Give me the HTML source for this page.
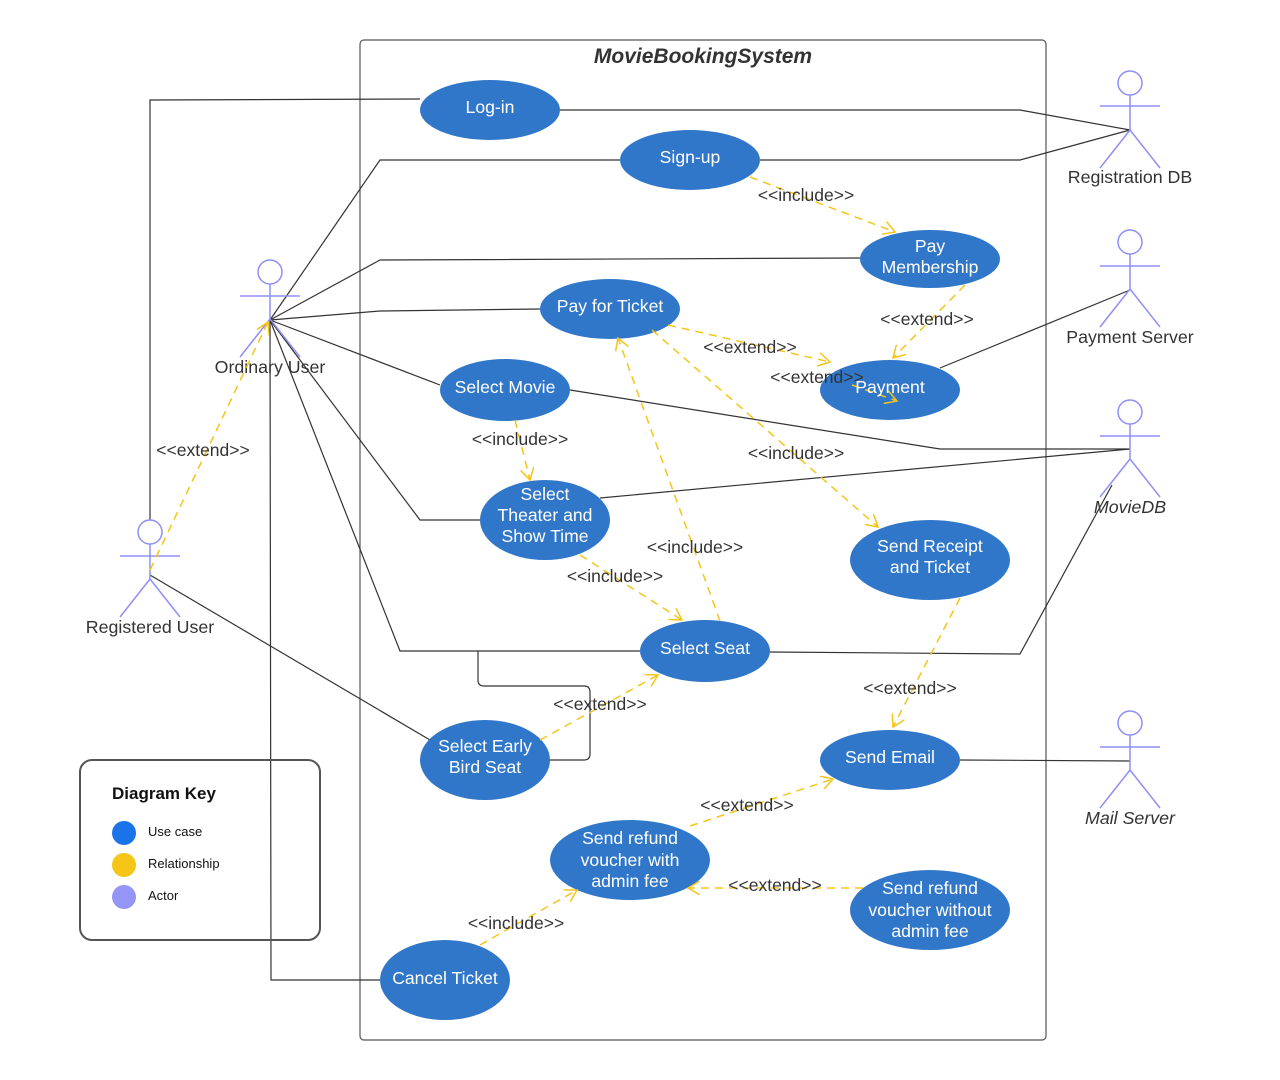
<!DOCTYPE html>
<html><head><meta charset="utf-8"><style>
body{margin:0;background:#fff}
svg{display:block;font-family:"Liberation Sans",sans-serif}
.u{fill:#3177c9}
.ut{fill:#fff;font-size:17.6px;text-anchor:middle}
.l{stroke:#333;stroke-width:1.2;fill:none}
.d{stroke:#f5c518;stroke-width:1.5;fill:none;stroke-dasharray:8,6;marker-end:url(#a)}
.lb{font-size:17.5px;fill:#333;text-anchor:middle}
.ac{stroke:#8f8ff5;stroke-width:1.5;fill:none}
.at{font-size:17.8px;fill:#333;text-anchor:middle}
</style></head><body>
<svg width="1280" height="1080" viewBox="0 0 1280 1080">
<defs><marker id="a" markerWidth="14" markerHeight="14" refX="12" refY="7" orient="auto" markerUnits="userSpaceOnUse"><path d="M0,0 L12,7 L0,14" fill="none" stroke="#f5c518" stroke-width="1.5"/></marker></defs>
<rect x="360" y="40" width="686" height="1000" rx="4" fill="none" stroke="#555" stroke-width="1.2"/>
<text x="703" y="63" font-size="21" font-weight="bold" font-style="italic" fill="#333" text-anchor="middle">MovieBookingSystem</text>
<!-- black lines -->
<path class="l" d="M420,99 L150,100 L150,520"/>
<path class="l" d="M560,110 L1020,110 L1130,130"/>
<path class="l" d="M270,320 L380,160 L620,160"/>
<path class="l" d="M760,160 L1020,160 L1130,130"/>
<path class="l" d="M270,320 L380,260 L860,258"/>
<path class="l" d="M270,320 L380,311 L540,309"/>
<path class="l" d="M270,320 L440,385"/>
<path class="l" d="M270,320 L420,520 L480,520"/>
<path class="l" d="M270,320 L400,651 L640,651"/>
<path class="l" d="M270,320 L271,980 L380,980"/>
<path class="l" d="M150,575 L430,740"/>
<path class="l" d="M570,390 L940,449 L1130,449"/>
<path class="l" d="M600,498 L1130,449"/>
<path class="l" d="M770,652 L1020,654 L1112,485"/>
<path class="l" d="M940,368 L1130,290"/>
<path class="l" d="M960,760 L1130,761"/>
<path class="l" d="M478,651 L478,680 Q478,686 484,686 L584,686 Q590,686 590,692 L590,754 Q590,760 584,760 L550,760"/>
<!-- actors -->
<g class="ac">
<circle cx="1130" cy="83" r="12"/><path d="M1130,95V130M1100,106H1160M1130,130L1100,168M1130,130L1160,168"/>
<circle cx="1130" cy="242" r="12"/><path d="M1130,254V289M1100,266H1160M1130,289L1100,327M1130,289L1160,327"/>
<circle cx="1130" cy="412" r="12"/><path d="M1130,424V459M1100,436H1160M1130,459L1100,497M1130,459L1160,497"/>
<circle cx="1130" cy="723" r="12"/><path d="M1130,735V770M1100,747H1160M1130,770L1100,808M1130,770L1160,808"/>
<circle cx="270" cy="272" r="12"/><path d="M270,284V319M240,296H300M270,319L240,357M270,319L300,357"/>
<circle cx="150" cy="532" r="12"/><path d="M150,544V579M120,556H180M150,579L120,617M150,579L180,617"/>
</g>
<text class="at" x="1130" y="183">Registration DB</text>
<text class="at" x="1130" y="343">Payment Server</text>
<text class="at" x="1130" y="513" font-style="italic">MovieDB</text>
<text class="at" x="1130" y="824" font-style="italic">Mail Server</text>
<text class="at" x="270" y="373">Ordinary User</text>
<text class="at" x="150" y="633">Registered User</text>
<!-- use cases -->
<ellipse class="u" cx="490" cy="110" rx="70" ry="30"/><text class="ut" x="490" y="113">Log-in</text>
<ellipse class="u" cx="690" cy="160" rx="70" ry="30"/><text class="ut" x="690" y="163">Sign-up</text>
<ellipse class="u" cx="930" cy="259" rx="70" ry="29"/><text class="ut" x="930" y="252">Pay</text><text class="ut" x="930" y="273">Membership</text>
<ellipse class="u" cx="610" cy="309" rx="70" ry="30"/><text class="ut" x="610" y="312">Pay for Ticket</text>
<ellipse class="u" cx="890" cy="390" rx="70" ry="30"/>
<ellipse class="u" cx="505" cy="390" rx="65" ry="31"/><text class="ut" x="505" y="393">Select Movie</text>
<ellipse class="u" cx="545" cy="520" rx="65" ry="40"/><text class="ut" x="545" y="500">Select</text><text class="ut" x="545" y="521">Theater and</text><text class="ut" x="545" y="542">Show Time</text>
<ellipse class="u" cx="930" cy="560" rx="80" ry="40"/><text class="ut" x="930" y="552">Send Receipt</text><text class="ut" x="930" y="573">and Ticket</text>
<ellipse class="u" cx="705" cy="651" rx="65" ry="31"/><text class="ut" x="705" y="654">Select Seat</text>
<ellipse class="u" cx="485" cy="760" rx="65" ry="40"/><text class="ut" x="485" y="752">Select Early</text><text class="ut" x="485" y="773">Bird Seat</text>
<ellipse class="u" cx="890" cy="760" rx="70" ry="30"/><text class="ut" x="890" y="763">Send Email</text>
<ellipse class="u" cx="630" cy="860" rx="80" ry="40"/><text class="ut" x="630" y="844">Send refund</text><text class="ut" x="630" y="866">voucher with</text><text class="ut" x="630" y="887">admin fee</text>
<ellipse class="u" cx="930" cy="910" rx="80" ry="40"/><text class="ut" x="930" y="894">Send refund</text><text class="ut" x="930" y="916">voucher without</text><text class="ut" x="930" y="937">admin fee</text>
<ellipse class="u" cx="445" cy="980" rx="65" ry="40"/><text class="ut" x="445" y="984">Cancel Ticket</text>
<!-- dashed -->
<path class="d" d="M750,177 L895,232"/>
<path class="d" d="M965,285 L893,358"/>
<path class="d" d="M668,325 L830,362"/>
<path class="d" d="M852,385 L897,401"/>
<path class="d" d="M652,330 L878,527"/>
<path class="d" d="M720,621 L618,338"/>
<path class="d" d="M515,420 L530,480"/>
<path class="d" d="M580,555 L682,620"/>
<path class="d" d="M540,740 L658,675"/>
<path class="d" d="M960,598 L893,727"/>
<path class="d" d="M690,826 L833,779"/>
<path class="d" d="M863,888 L688,888"/>
<path class="d" d="M480,945 L577,890"/>
<path class="d" d="M150,570 L268,322"/>
<text class="ut" x="890" y="393">Payment</text>
<!-- labels -->
<text class="lb" x="806" y="201">&lt;&lt;include&gt;&gt;</text>
<text class="lb" x="927" y="325">&lt;&lt;extend&gt;&gt;</text>
<text class="lb" x="750" y="353">&lt;&lt;extend&gt;&gt;</text>
<text class="lb" x="817" y="383">&lt;&lt;extend&gt;&gt;</text>
<text class="lb" x="796" y="459">&lt;&lt;include&gt;&gt;</text>
<text class="lb" x="695" y="553">&lt;&lt;include&gt;&gt;</text>
<text class="lb" x="520" y="445">&lt;&lt;include&gt;&gt;</text>
<text class="lb" x="615" y="582">&lt;&lt;include&gt;&gt;</text>
<text class="lb" x="600" y="710">&lt;&lt;extend&gt;&gt;</text>
<text class="lb" x="910" y="694">&lt;&lt;extend&gt;&gt;</text>
<text class="lb" x="747" y="811">&lt;&lt;extend&gt;&gt;</text>
<text class="lb" x="775" y="891">&lt;&lt;extend&gt;&gt;</text>
<text class="lb" x="516" y="929">&lt;&lt;include&gt;&gt;</text>
<text class="lb" x="203" y="456">&lt;&lt;extend&gt;&gt;</text>
<!-- legend -->
<rect x="80" y="760" width="240" height="180" rx="12" fill="none" stroke="#555" stroke-width="2"/>
<text x="112" y="799" font-size="17" font-weight="bold" fill="#111">Diagram Key</text>
<circle cx="124" cy="833" r="12" fill="#1a73e8"/><text x="148" y="836" font-size="13" fill="#111">Use case</text>
<circle cx="124" cy="865" r="12" fill="#f5c518"/><text x="148" y="868" font-size="13" fill="#111">Relationship</text>
<circle cx="124" cy="897" r="12" fill="#9595f8"/><text x="148" y="900" font-size="13" fill="#111">Actor</text>
</svg>
</body></html>
